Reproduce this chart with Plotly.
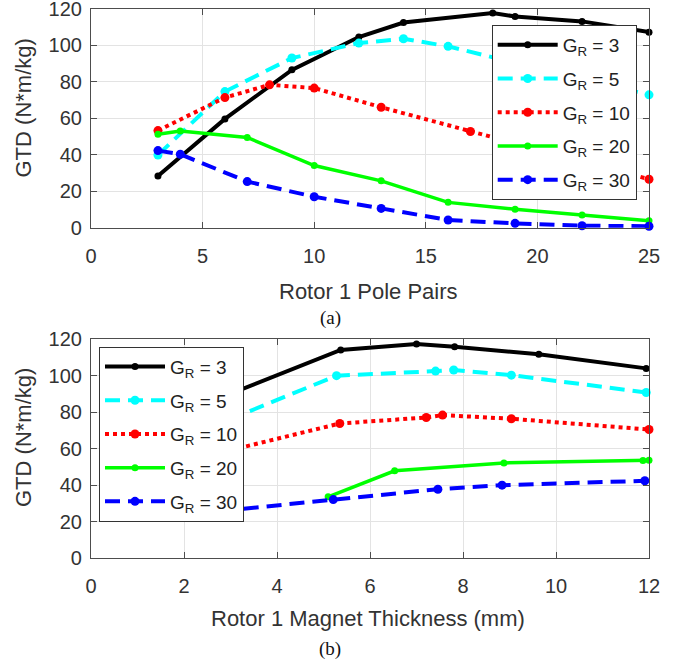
import plotly.graph_objects as go

# ---------- data: panel (a) Rotor 1 Pole Pairs ----------
a_x_gr3 = [3, 6, 9, 12, 14, 18, 19, 22, 25]
a_y_gr3 = [28.4, 59.7, 86.6, 104.6, 112.6, 117.8, 115.9, 113.2, 107.3]
a_x_gr5 = [3, 6, 9, 12, 14, 16, 19, 22, 25]
a_y_gr5 = [39.9, 74.7, 93.1, 101.3, 103.7, 99.5, 90.5, 81.5, 72.9]
a_x_gr10 = [3, 6, 8, 10, 13, 17, 21, 25]
a_y_gr10 = [53.3, 71.4, 78.4, 76.6, 66.1, 52.8, 40.0, 26.6]
a_x_gr20 = [3, 4, 7, 10, 13, 16, 19, 22, 25]
a_y_gr20 = [51.3, 53.1, 49.5, 34.1, 25.7, 13.9, 10.1, 7.0, 3.8]
a_x_gr30 = [3, 4, 7, 10, 13, 16, 19, 22, 25]
a_y_gr30 = [42.3, 40.3, 25.3, 17.0, 10.6, 4.2, 2.4, 1.1, 0.8]

# ---------- data: panel (b) Rotor 1 Magnet Thickness ----------
b_x_gr3 = [2.5, 5.37, 7.0, 7.82, 9.63, 11.94]
b_y_gr3 = [85.0, 114.0, 117.3, 115.8, 111.6, 103.9]
b_x_gr5 = [2.5, 5.28, 7.41, 7.80, 9.04, 11.94]
b_y_gr5 = [71.0, 99.9, 102.4, 103.0, 100.2, 90.7]
b_x_gr10 = [2.5, 5.35, 7.21, 7.56, 9.04, 12.0]
b_y_gr10 = [56.0, 73.7, 77.0, 78.3, 76.3, 70.4]
b_x_gr20 = [5.10, 6.53, 8.88, 11.87, 12.0]
b_y_gr20 = [33.5, 47.8, 52.1, 53.4, 53.6]
b_x_gr30 = [2.3, 5.21, 7.46, 8.84, 11.91]
b_y_gr30 = [24.5, 32.0, 37.7, 39.9, 42.3]

series_names = ["G<sub>R</sub> = 3", "G<sub>R</sub> = 5", "G<sub>R</sub> = 10",
                "G<sub>R</sub> = 20", "G<sub>R</sub> = 30"]

styles = [
    dict(color="#000000", dash="solid", width=4, msize=7),
    dict(color="#00ffff", dash="15px,8px", width=4, msize=9),
    dict(color="#ff0000", dash="dot", width=4, msize=9),
    dict(color="#00ff00", dash="solid", width=3.5, msize=7),
    dict(color="#0000ff", dash="15px,8px", width=4, msize=9),
]

W, H = 683, 663
ML, MR, MT, MB = 91, 34, 9, 105
PW = W - ML - MR
PH = H - MT - MB


def px(X):
    return (X - ML) / PW


def py(Y):
    return (H - MB - Y) / PH


fig = go.Figure()

a_sets = [(a_x_gr3, a_y_gr3), (a_x_gr5, a_y_gr5), (a_x_gr10, a_y_gr10),
          (a_x_gr20, a_y_gr20), (a_x_gr30, a_y_gr30)]
b_sets = [(b_x_gr3, b_y_gr3), (b_x_gr5, b_y_gr5), (b_x_gr10, b_y_gr10),
          (b_x_gr20, b_y_gr20), (b_x_gr30, b_y_gr30)]

for i, ((xs, ys), name, st) in enumerate(zip(a_sets, series_names, styles)):
    fig.add_trace(go.Scatter(
        x=xs, y=ys, name=name, mode="lines+markers", legendgroup="a%d" % i,
        line=dict(color=st["color"], dash=st["dash"], width=st["width"]),
        marker=dict(color=st["color"], size=st["msize"]),
        xaxis="x", yaxis="y", legend="legend", cliponaxis=False))

for i, ((xs, ys), name, st) in enumerate(zip(b_sets, series_names, styles)):
    fig.add_trace(go.Scatter(
        x=xs, y=ys, name=name, mode="lines+markers", legendgroup="b%d" % i,
        line=dict(color=st["color"], dash=st["dash"], width=st["width"]),
        marker=dict(color=st["color"], size=st["msize"]),
        xaxis="x2", yaxis="y2", legend="legend2", cliponaxis=False))

FONT = "Liberation Sans, Arial, sans-serif"
axis_common = dict(
    showline=True, linecolor="#4d4d4d", linewidth=1.2, mirror="ticks",
    ticks="inside", ticklen=6, tickcolor="#4d4d4d", automargin=False,
    ticklabeloverflow="allow",
    showgrid=True, gridcolor="#e3e3e3", gridwidth=1, zeroline=False,
    tickfont=dict(family=FONT, size=20, color="#333333"),
)

top_dom = [py(227.7), 1.0]
bot_dom = [0.0, py(339.0)]

legend_common = dict(xanchor="left", yanchor="top", xref="paper", yref="paper",
                     bgcolor="white", bordercolor="#333333", borderwidth=1,
                     itemwidth=60, tracegroupgap=6,
                     font=dict(family=FONT, size=19, color="#222222"))

fig.update_layout(
    width=W, height=H,
    margin=dict(l=ML, r=MR, t=MT, b=MB, autoexpand=False),
    paper_bgcolor="white", plot_bgcolor="white",
    showlegend=True,
    xaxis=dict(axis_common, range=[0, 25], tickvals=[0, 5, 10, 15, 20, 25],
               anchor="y", domain=[0, 1], ticklabelstandoff=10),
    yaxis=dict(axis_common, range=[0, 120], tickvals=[0, 20, 40, 60, 80, 100, 120],
               anchor="x", domain=top_dom, ticklabelstandoff=4),
    xaxis2=dict(axis_common, range=[0, 12], tickvals=[0, 2, 4, 6, 8, 10, 12],
                anchor="y2", domain=[0, 1], ticklabelstandoff=10),
    yaxis2=dict(axis_common, range=[0, 120], tickvals=[0, 20, 40, 60, 80, 100, 120],
                anchor="x2", domain=bot_dom, ticklabelstandoff=4),
    legend=dict(legend_common, x=px(491.7), y=py(25)),
    legend2=dict(legend_common, x=px(99), y=py(346.7)),
)

ann_font = dict(family=FONT, size=22, color="#333333")
serif = dict(family="Liberation Serif, Times New Roman, serif", size=19, color="#111111")
annotations = [
    dict(text="Rotor 1 Pole Pairs", x=px(368), y=py(291), font=ann_font),
    dict(text="GTD (N*m/kg)", x=px(23.5), y=py(108), textangle=-90, font=ann_font),
    dict(text="(a)", x=px(330), y=py(318), font=serif),
    dict(text="Rotor 1 Magnet Thickness (mm)", x=px(368), y=py(618), font=ann_font),
    dict(text="GTD (N*m/kg)", x=px(23.5), y=py(437.5), textangle=-90, font=ann_font),
    dict(text="(b)", x=px(330), y=py(649), font=serif),
]
for a in annotations:
    a.update(xref="paper", yref="paper", showarrow=False, xanchor="center", yanchor="middle")
fig.update_layout(annotations=annotations)

fig.write_html("out.html", config={"displayModeBar": False},
               post_script="document.body.style.margin='0';document.body.style.overflow='hidden';")
